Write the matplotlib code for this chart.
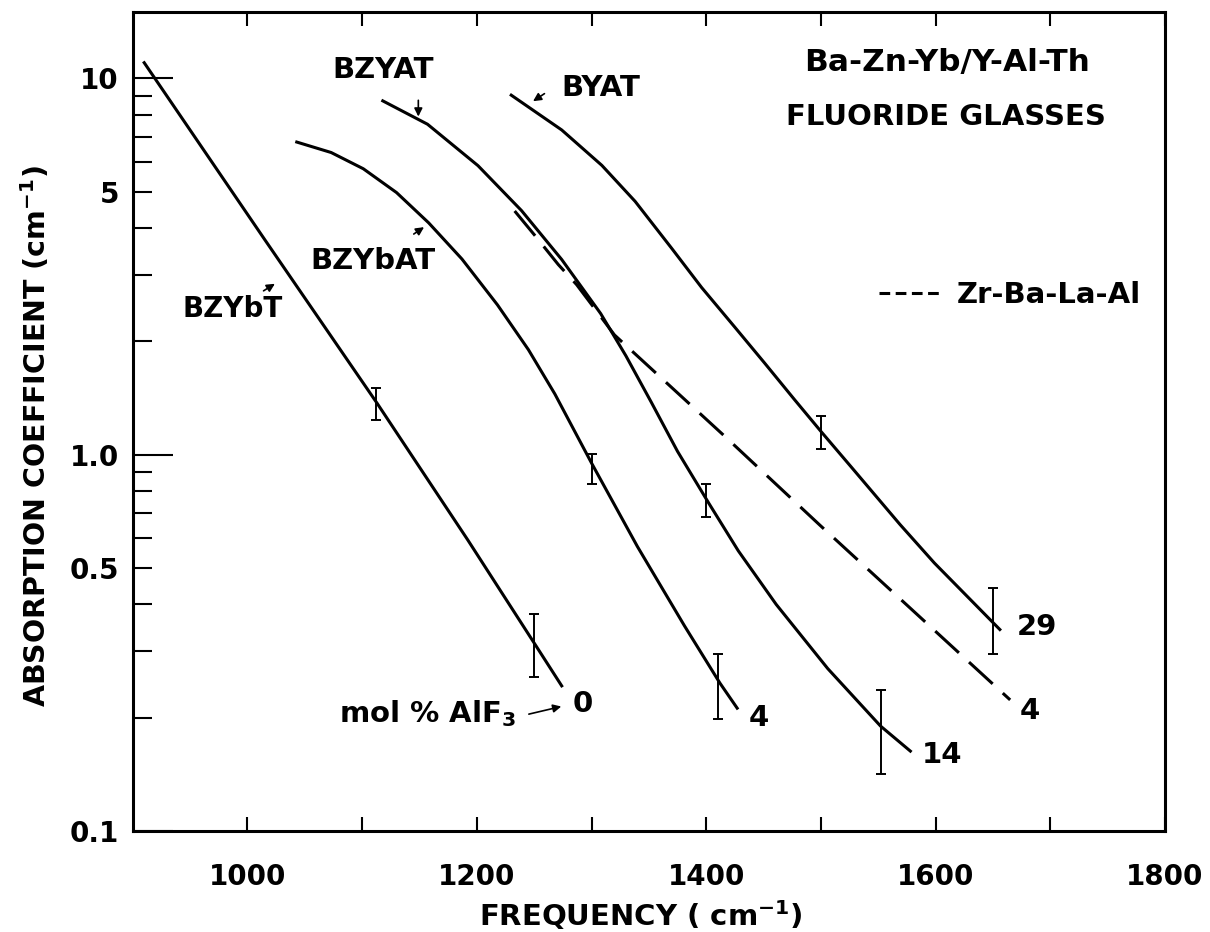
import matplotlib
matplotlib.use('Agg')
import matplotlib.pyplot as plt
from matplotlib.ticker import FixedLocator, FixedFormatter, FuncFormatter
from matplotlib.lines import Line2D

# absorption curves (frequency in cm-1, coefficient in cm-1)
bzybt_x = [910, 1015, 1113, 1192, 1252, 1274]
bzybt_y = [11.0, 3.73, 1.37, 0.594, 0.309, 0.243]

bzybat_x = [1043, 1073, 1101, 1130, 1158, 1187, 1218, 1245, 1268, 1300, 1340, 1381, 1412, 1427]
bzybat_y = [6.77, 6.35, 5.75, 4.97, 4.13, 3.31, 2.50, 1.90, 1.45, 0.95, 0.57, 0.351, 0.247, 0.212]

bzyat_x = [1118, 1157, 1201, 1239, 1274, 1308, 1330, 1352, 1375, 1402, 1428, 1461, 1506, 1552, 1578]
bzyat_y = [8.71, 7.55, 5.86, 4.45, 3.30, 2.37, 1.83, 1.38, 1.02, 0.745, 0.555, 0.40, 0.27, 0.19, 0.163]

byat_x = [1230, 1274, 1309, 1338, 1370, 1396, 1425, 1451, 1477, 1500, 1527, 1569, 1599, 1656]
byat_y = [9.02, 7.29, 5.87, 4.71, 3.53, 2.78, 2.18, 1.75, 1.40, 1.153, 0.923, 0.652, 0.515, 0.343]

# Zr-Ba-La-Al reference glass (dashed)
zbla_x = [1233, 1251, 1271, 1287, 1320, 1416, 1499, 1665]
zbla_y = [4.44, 3.81, 3.20, 2.83, 2.08, 1.12, 0.65, 0.223]

# error bars: position, low, high
err_x = [1112, 1250, 1300, 1410, 1400, 1552, 1500, 1650]
err_mid = [1.37, 0.31, 0.93, 0.247, 0.76, 0.193, 1.15, 0.36]
err_low = [1.234, 0.256, 0.837, 0.198, 0.681, 0.1415, 1.035, 0.295]
err_high = [1.504, 0.378, 1.006, 0.296, 0.836, 0.237, 1.264, 0.442]

x_ticks = [1000, 1200, 1400, 1600, 1800]
x_minor = [1100, 1300, 1500, 1700]
y_major = [0.1, 1, 10]
y_major_labels = ['0.1', '1.0', '10']
y_minor = [0.2, 0.3, 0.4, 0.5, 0.6, 0.7, 0.8, 0.9, 2, 3, 4, 5, 6, 7, 8, 9]
y_minor_labels = {0.5: '0.5', 5: '5'}

plt.rcParams['font.family'] = ['DejaVu Sans']
plt.rcParams['font.weight'] = 'bold'
plt.rcParams['mathtext.fontset'] = 'dejavusans'
plt.rcParams['mathtext.default'] = 'bf'

fs = 21      # annotation text
tfs = 20     # tick labels
lw = 2.2

fig = plt.figure(figsize=(12.1, 9.32), dpi=100)
ax = fig.add_axes([0.1097, 0.1084, 0.8531, 0.8787])

ax.plot(bzybt_x, bzybt_y, color='black', lw=lw)
ax.plot(bzybat_x, bzybat_y, color='black', lw=lw)
ax.plot(bzyat_x, bzyat_y, color='black', lw=lw)
ax.plot(byat_x, byat_y, color='black', lw=lw)
ax.plot(zbla_x, zbla_y, color='black', lw=lw, linestyle=(0, (10.5, 4.5)))

yerr = [[m - lo for m, lo in zip(err_mid, err_low)],
        [hi - m for m, hi in zip(err_mid, err_high)]]
ax.errorbar(err_x, err_mid, yerr=yerr, fmt='none', ecolor='black',
            elinewidth=1.4, capsize=3.6, capthick=1.4)

ax.set_yscale('log')
ax.set_xlim(900, 1800)
ax.set_ylim(0.1, 15)

ax.xaxis.set_major_locator(FixedLocator(x_ticks))
ax.xaxis.set_minor_locator(FixedLocator(x_minor))
ax.tick_params(axis='x', which='both', direction='in', top=True, bottom=True,
               length=10, width=1.5, pad=23, labelsize=tfs)

ax.yaxis.set_major_locator(FixedLocator(y_major))
ax.yaxis.set_major_formatter(FixedFormatter(y_major_labels))
ax.yaxis.set_minor_locator(FixedLocator(y_minor))
ax.yaxis.set_minor_formatter(FuncFormatter(lambda v, p: y_minor_labels.get(round(v, 2), '')))
ax.tick_params(axis='y', which='major', direction='in', length=29, width=1.5, pad=10, labelsize=tfs, right=False)
ax.tick_params(axis='y', which='minor', direction='in', length=14, width=1.5, pad=10, labelsize=tfs, right=False)

for sp in ax.spines.values():
    sp.set_linewidth(2.2)

ax.set_xlabel('FREQUENCY ( cm$^{-1}$)', fontsize=fs, fontweight='bold')
ax.xaxis.set_label_coords(0.492, -0.082)
ax.set_ylabel('ABSORPTION COEFFICIENT (cm$^{-1}$)', fontsize=20.5, fontweight='bold')
ax.yaxis.set_label_coords(-0.078, 0.482)

# curve names with little arrows
arrow = dict(arrowstyle='-|>', color='black', lw=1.2, mutation_scale=12)
ax.text(987, 2.445, 'BZYbT', fontsize=20, ha='center', va='center')
ax.annotate('', xy=(1026, 2.87), xytext=(1012, 2.70), arrowprops=arrow)
ax.text(1109, 3.26, 'BZYbAT', fontsize=fs, ha='center', va='center')
ax.annotate('', xy=(1156, 4.06), xytext=(1143, 3.82), arrowprops=arrow)
ax.text(1118, 10.55, 'BZYAT', fontsize=fs, ha='center', va='center')
ax.annotate('', xy=(1149, 7.78), xytext=(1149, 8.89), arrowprops=arrow)
ax.text(1308, 9.41, 'BYAT', fontsize=fs, ha='center', va='center')
ax.annotate('', xy=(1247, 8.61), xytext=(1261, 9.19), arrowprops=arrow)

# mol % AlF3 at the curve ends
ax.text(1292, 0.2176, '0', fontsize=fs, ha='center', va='center')
ax.text(1446, 0.2001, '4', fontsize=fs, ha='center', va='center')
ax.text(1606, 0.159, '14', fontsize=fs, ha='center', va='center')
ax.text(1682, 0.2084, '4', fontsize=fs, ha='center', va='center')
ax.text(1688, 0.3487, '29', fontsize=fs, ha='center', va='center')
ax.text(1234, 0.194, 'mol % AlF$_3$', fontsize=fs, ha='right', va='baseline')
ax.annotate('', xy=(1276, 0.215), xytext=(1243, 0.2036), arrowprops=arrow)

ax.text(0.789, 0.938, 'Ba-Zn-Yb/Y-Al-Th', transform=ax.transAxes, fontsize=22.5, ha='center', va='center')
ax.text(0.788, 0.872, 'FLUORIDE GLASSES', transform=ax.transAxes, fontsize=fs, ha='center', va='center')

sample = Line2D([], [], color='black', lw=lw, linestyle=(0, (3.5, 1.8)))
ax.legend([sample], ['Zr-Ba-La-Al'], loc='center left', bbox_to_anchor=(0.723, 0.654),
          frameon=False, fontsize=fs, handlelength=2.1, handletextpad=0.55,
          borderpad=0, borderaxespad=0)

fig.savefig('out.png', dpi=100)
